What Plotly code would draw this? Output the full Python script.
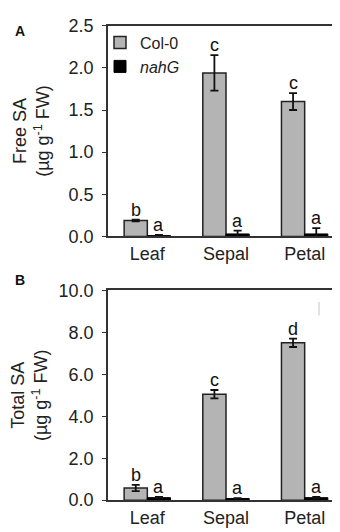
import plotly.graph_objects as go

categories = ["Leaf", "Sepal", "Petal"]

free_col0 = [0.19, 1.94, 1.60]
free_col0_err = [0.01, 0.21, 0.10]
free_nahg = [0.01, 0.03, 0.03]
free_nahg_err = [0.01, 0.04, 0.07]
free_col0_letters = ["b", "c", "c"]
free_nahg_letters = ["a", "a", "a"]

total_col0 = [0.58, 5.05, 7.50]
total_col0_err = [0.15, 0.20, 0.20]
total_nahg = [0.12, 0.08, 0.12]
total_nahg_err = [0.03, 0.02, 0.03]
total_col0_letters = ["b", "c", "d"]
total_nahg_letters = ["a", "a", "a"]

W, H = 340, 532
FONT = "Liberation Sans, Arial, sans-serif"
COL_GREY = "#b4b4b4"
EDGE = "#222222"

fig = go.Figure()

def add_panel(col0, col0e, nahg, nahge, xa, ya, show):
    fig.add_trace(go.Bar(
        x=categories, y=col0, name="Col-0", xaxis=xa, yaxis=ya,
        marker=dict(color=COL_GREY, line=dict(color=EDGE, width=1.5)),
        error_y=dict(type="data", array=col0e, color="#111", thickness=1.8, width=4),
        offsetgroup="c", legendgroup="c", showlegend=show))
    fig.add_trace(go.Bar(
        x=categories, y=nahg, name="<i>nahG</i>", xaxis=xa, yaxis=ya,
        marker=dict(color="#000000", line=dict(color="#000", width=1)),
        error_y=dict(type="data", array=nahge, color="#111", thickness=1.8, width=4),
        offsetgroup="n", legendgroup="n", showlegend=show))

add_panel(free_col0, free_col0_err, free_nahg, free_nahg_err, "x", "y", True)
add_panel(total_col0, total_col0_err, total_nahg, total_nahg_err, "x2", "y2", False)

SH = 11.6
def letters(vals, errs, labs, xa, ya, shift):
    for c, v, e, t in zip(categories, vals, errs, labs):
        fig.add_annotation(x=c, y=v + e, text=t, xref=xa, yref=ya, xshift=shift,
                           yanchor="bottom", yshift=-2, showarrow=False,
                           font=dict(family=FONT, size=18, color="#111"))

letters(free_col0, free_col0_err, free_col0_letters, "x", "y", -SH)
letters(free_nahg, free_nahg_err, free_nahg_letters, "x", "y", SH)
letters(total_col0, total_col0_err, total_col0_letters, "x2", "y2", -SH)
letters(total_nahg, total_nahg_err, total_nahg_letters, "x2", "y2", SH)

xd = [100 / W, 336 / W]
ydA = [1 - 227 / H, 1 - 8 / H]
ydB = [1 - 501 / H, 1 - 283 / H]

axcommon = dict(showline=True, linecolor="#333", linewidth=1.5, mirror=True,
                showgrid=False, zeroline=False,
                tickfont=dict(family=FONT, size=18, color="#222"))

fig.update_layout(
    width=W, height=H, margin=dict(l=0, r=0, t=0, b=0),
    paper_bgcolor="white", plot_bgcolor="white",
    barmode="group", bargap=0.41, bargroupgap=0,
    font=dict(family=FONT, color="#222"),
    xaxis=dict(domain=xd, anchor="y", ticks="", **axcommon),
    yaxis=dict(domain=ydA, anchor="x", range=[0, 2.5], dtick=0.5, tickformat=".1f",
               ticks="outside", ticklen=4, tickcolor="#333", ticklabelstandoff=5,
               title=dict(text="Free SA<br>(µg g<sup>-1</sup> FW)", font=dict(family=FONT, size=18), standoff=14),
               **axcommon),
    xaxis2=dict(domain=xd, anchor="y2", ticks="", **axcommon),
    yaxis2=dict(domain=ydB, anchor="x2", range=[0, 10], dtick=2, tickformat=".1f",
                ticks="outside", ticklen=4, tickcolor="#333", ticklabelstandoff=5,
                title=dict(text="Total SA<br>(µg g<sup>-1</sup> FW)", font=dict(family=FONT, size=18), standoff=14),
                **axcommon),
    legend=dict(x=92 / W, y=1 - 8 / H, xanchor="left", yanchor="top",
                bgcolor="rgba(0,0,0,0)", font=dict(family=FONT, size=16, color="#222"),
                tracegroupgap=0, itemwidth=30),
    shapes=[dict(type="line", xref="paper", yref="paper",
                 x0=311 / W, x1=311 / W, y0=1 - 295 / H, y1=1 - 309 / H,
                 line=dict(color="#d8d8d8", width=1.5))],
)

fig.add_annotation(x=5 / W, y=1 - 3 / H, xref="paper", yref="paper", text="<b>A</b>",
                   showarrow=False, xanchor="left", yanchor="top",
                   font=dict(family=FONT, size=14, color="#111"))
fig.add_annotation(x=5 / W, y=1 - 262 / H, xref="paper", yref="paper", text="<b>B</b>",
                   showarrow=False, xanchor="left", yanchor="top",
                   font=dict(family=FONT, size=14, color="#111"))

fig.write_html("out.html")
